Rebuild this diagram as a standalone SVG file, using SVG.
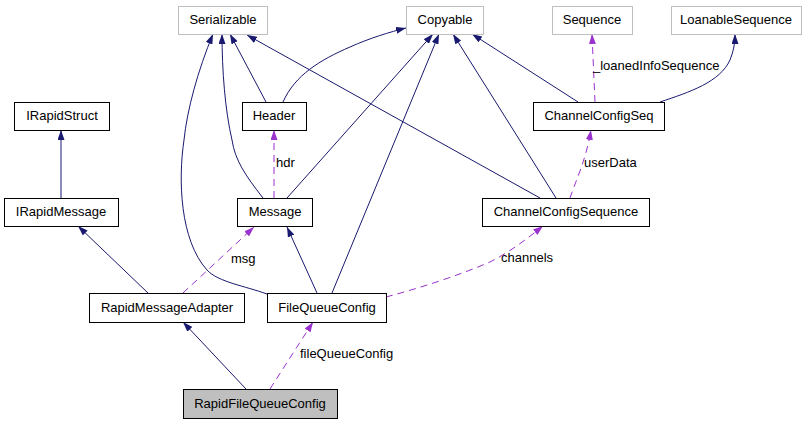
<svg xmlns="http://www.w3.org/2000/svg" width="808" height="424" viewBox="0 0 808 424">
<defs>
<style>
.n rect{fill:#fff;stroke:#000;stroke-width:1}
.n.g rect{stroke:#bfbfbf}
.n.cur rect{fill:#bfbfbf}
text{font-family:"Liberation Sans",Arial,sans-serif;font-size:13px;fill:#000}
.n text{text-anchor:middle}
.e{fill:none;stroke:#191970;stroke-width:1;marker-end:url(#an)}
.d{fill:none;stroke:#9a32cd;stroke-width:1;stroke-dasharray:7,5;marker-end:url(#ap)}
</style>
<marker id="an" viewBox="0 0 10 7" refX="10" refY="3.5" markerWidth="10" markerHeight="7" markerUnits="userSpaceOnUse" orient="auto"><path d="M0,0L10,3.5L0,7z" fill="#191970"/></marker>
<marker id="ap" viewBox="0 0 10 7" refX="10" refY="3.5" markerWidth="10" markerHeight="7" markerUnits="userSpaceOnUse" orient="auto"><path d="M0,0L10,3.5L0,7z" fill="#9a32cd"/></marker>
</defs>
<rect width="808" height="424" fill="#fff"/>
<g id="edges">
<path class="e" d="M61,198L61,130"/>
<path class="e" d="M148,293L78,226"/>
<path class="e" d="M246,389L183,322"/>
<path class="d" d="M270,389L313,322"/>
<path class="d" d="M183,293L254,227"/>
<path class="e" d="M317,293L287,227"/>
<path class="e" d="M332,293L439,34"/>
<path class="e" d="M267,294C245,286 218,282 207,270C180,240 178,180 184,140C187,110 198,70 213,34"/>
<path class="e" d="M263,198C245,175 235,160 232,140C225,110 222,70 222,34"/>
<path class="e" d="M287,198L433,34"/>
<path class="e" d="M266,102L230,34"/>
<path class="e" d="M283,102C295,75 320,60 350,47C370,38 390,32 406,28"/>
<path class="d" d="M274,198L274,130"/>
<path class="e" d="M540,198L247,35"/>
<path class="e" d="M556,198L453,34"/>
<path class="d" d="M570,198C576,180 586,160 591,130"/>
<path class="e" d="M578,102L472,34"/>
<path class="d" d="M595,102L592,34"/>
<path class="e" d="M660,102C690,92 720,82 730,60C733,52 735,45 735,34"/>
<path class="d" d="M386,297C420,288 460,275 490,262C510,252 528,238 543,226"/>
<text x="300" y="358">fileQueueConfig</text>
<text x="231" y="263">msg</text>
<text x="276" y="167">hdr</text>
<text x="584" y="167">userData</text>
<text x="593" y="70">_loanedInfoSequence</text>
<text x="501" y="262">channels</text>
</g>
<g id="Serializable" class="n g"><rect x="178.5" y="6.5" width="89" height="28"/><text x="223" y="24">Serializable</text></g>
<g id="Copyable" class="n g"><rect x="406.5" y="6.5" width="77" height="28"/><text x="445" y="24">Copyable</text></g>
<g id="Sequence" class="n g"><rect x="552.5" y="6.5" width="80" height="28"/><text x="592" y="24">Sequence</text></g>
<g id="LoanableSequence" class="n g"><rect x="671.5" y="6.5" width="130" height="28"/><text x="736" y="24">LoanableSequence</text></g>
<g id="IRapidStruct" class="n"><rect x="14.5" y="102.5" width="95" height="28"/><text x="62" y="120">IRapidStruct</text></g>
<g id="Header" class="n"><rect x="242.5" y="102.5" width="64" height="28"/><text x="274" y="120">Header</text></g>
<g id="ChannelConfigSeq" class="n"><rect x="533.5" y="102.5" width="131" height="28"/><text x="599" y="120">ChannelConfigSeq</text></g>
<g id="IRapidMessage" class="n"><rect x="4.5" y="198.5" width="114" height="28"/><text x="61" y="216">IRapidMessage</text></g>
<g id="Message" class="n"><rect x="237.5" y="198.5" width="75" height="28"/><text x="275" y="216">Message</text></g>
<g id="ChannelConfigSequence" class="n"><rect x="482.5" y="198.5" width="167" height="28"/><text x="566" y="216">ChannelConfigSequence</text></g>
<g id="RapidMessageAdapter" class="n"><rect x="89.5" y="293.5" width="155" height="29"/><text x="167" y="312">RapidMessageAdapter</text></g>
<g id="FileQueueConfig" class="n"><rect x="267.5" y="293.5" width="119" height="29"/><text x="327" y="312">FileQueueConfig</text></g>
<g id="RapidFileQueueConfig" class="n cur"><rect x="183.5" y="389.5" width="154" height="29"/><text x="260" y="408">RapidFileQueueConfig</text></g>
</svg>
